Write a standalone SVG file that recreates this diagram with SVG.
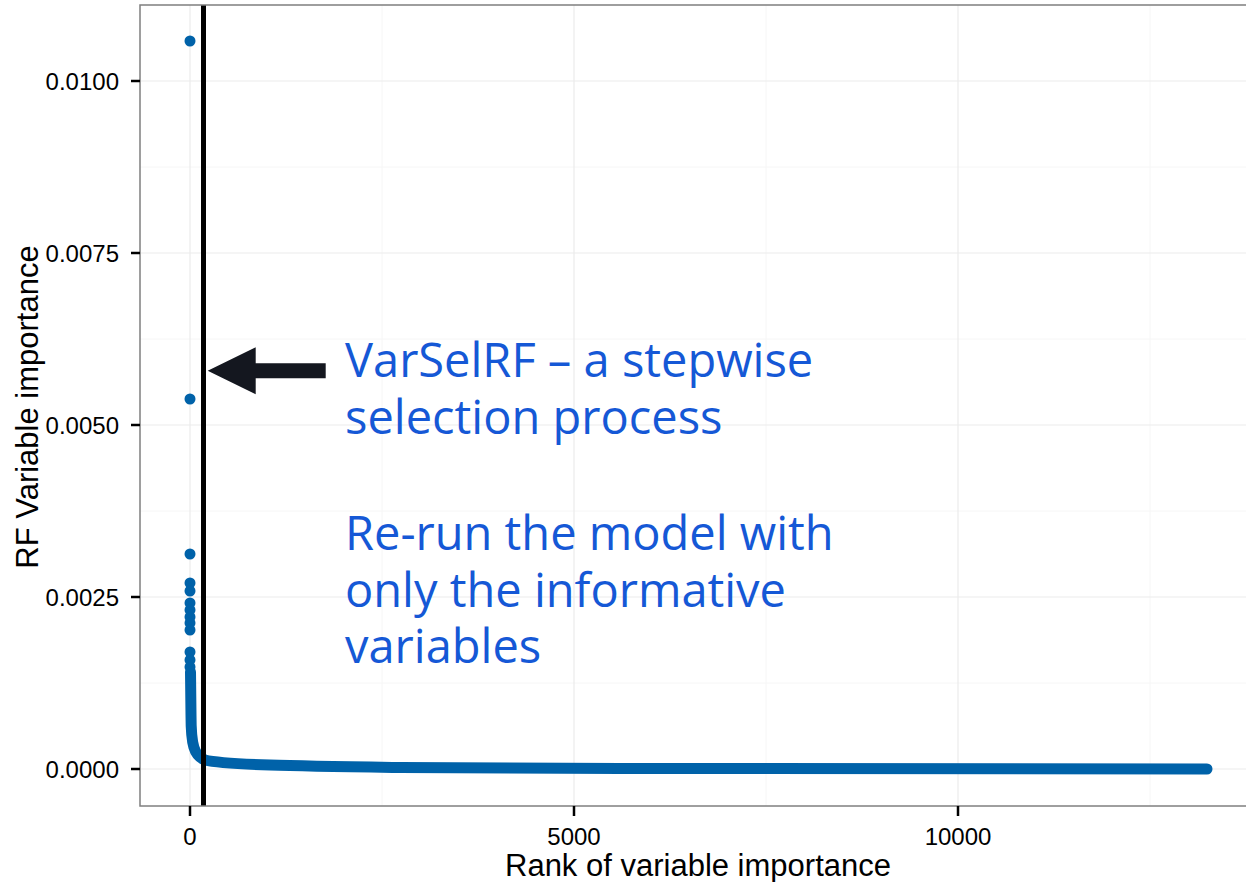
<svg xmlns="http://www.w3.org/2000/svg" width="1246" height="882" viewBox="0 0 1246 882">
  <style>
    .grid-major { stroke: #ebebeb; stroke-width: 1.2; }
    .grid-minor { stroke: #f6f6f6; stroke-width: 1; }
    .tick { stroke: #000; stroke-width: 2.5; }
    .ticklabel { font-family: "Liberation Sans", Arial, sans-serif; font-size: 24px; fill: #000; }
    .axistitle { font-family: "Liberation Sans", Arial, sans-serif; font-size: 31px; fill: #000; }
    .pt { fill: #0062a9; }
    .note { font-family: "Open Sans", "Noto Sans", sans-serif; font-size: 47px; fill: #1558d6; }
  </style>
  <rect width="1246" height="882" fill="#fff"/>

  <!-- panel grid -->
  <g id="grid">
    <line class="grid-minor" x1="140" x2="1246" y1="167" y2="167"/>
    <line class="grid-minor" x1="140" x2="1246" y1="339" y2="339"/>
    <line class="grid-minor" x1="140" x2="1246" y1="511" y2="511"/>
    <line class="grid-minor" x1="140" x2="1246" y1="683" y2="683"/>
    <line class="grid-minor" x1="382" x2="382" y1="5" y2="806"/>
    <line class="grid-minor" x1="766" x2="766" y1="5" y2="806"/>
    <line class="grid-minor" x1="1150" x2="1150" y1="5" y2="806"/>
    <line class="grid-major" x1="140" x2="1246" y1="81" y2="81"/>
    <line class="grid-major" x1="140" x2="1246" y1="253" y2="253"/>
    <line class="grid-major" x1="140" x2="1246" y1="425" y2="425"/>
    <line class="grid-major" x1="140" x2="1246" y1="597" y2="597"/>
    <line class="grid-major" x1="140" x2="1246" y1="769" y2="769"/>
    <line class="grid-major" x1="190" x2="190" y1="5" y2="806"/>
    <line class="grid-major" x1="574" x2="574" y1="5" y2="806"/>
    <line class="grid-major" x1="958" x2="958" y1="5" y2="806"/>
  </g>

  <!-- data: importance by rank -->
  <g id="points">
    <circle class="pt" cx="190" cy="41" r="5.5"/>
    <circle class="pt" cx="190" cy="399" r="5.5"/>
    <circle class="pt" cx="190" cy="554" r="5.5"/>
    <circle class="pt" cx="190" cy="583" r="5.5"/>
    <circle class="pt" cx="190" cy="591" r="5.5"/>
    <circle class="pt" cx="190" cy="603" r="5.5"/>
    <circle class="pt" cx="190" cy="610" r="5.5"/>
    <circle class="pt" cx="190" cy="617" r="5.5"/>
    <circle class="pt" cx="190" cy="623" r="5.5"/>
    <circle class="pt" cx="190" cy="630" r="5.5"/>
    <circle class="pt" cx="190" cy="652" r="5.5"/>
    <circle class="pt" cx="190" cy="660" r="5.5"/>
    <circle class="pt" cx="190" cy="667" r="5.5"/>
    <path d="M190.5,672 L191,715 C191,745 194,756 205,760 C225,765 300,766 400,767.5 L620,768.5 L1207,769"
          fill="none" stroke="#0062a9" stroke-width="11" stroke-linecap="round" stroke-linejoin="round"/>
  </g>

  <!-- cut-off marker -->
  <line id="cutoff" x1="203.5" y1="5" x2="203.5" y2="806" stroke="#000" stroke-width="5"/>

  <!-- panel border -->
  <rect id="panel" x="140" y="5" width="1110" height="801" fill="none" stroke="#7f7f7f" stroke-width="1.5"/>

  <!-- axes -->
  <g id="y-axis">
    <line class="tick" x1="131" x2="140" y1="81" y2="81"/>
    <line class="tick" x1="131" x2="140" y1="253" y2="253"/>
    <line class="tick" x1="131" x2="140" y1="425" y2="425"/>
    <line class="tick" x1="131" x2="140" y1="597" y2="597"/>
    <line class="tick" x1="131" x2="140" y1="769" y2="769"/>
    <text class="ticklabel" x="119" y="90" text-anchor="end">0.0100</text>
    <text class="ticklabel" x="119" y="262" text-anchor="end">0.0075</text>
    <text class="ticklabel" x="119" y="434" text-anchor="end">0.0050</text>
    <text class="ticklabel" x="119" y="606" text-anchor="end">0.0025</text>
    <text class="ticklabel" x="119" y="778" text-anchor="end">0.0000</text>
    <text class="axistitle" transform="translate(38,407) rotate(-90)" text-anchor="middle">RF Variable importance</text>
  </g>
  <g id="x-axis">
    <line class="tick" x1="190" x2="190" y1="806" y2="816"/>
    <line class="tick" x1="574" x2="574" y1="806" y2="816"/>
    <line class="tick" x1="958" x2="958" y1="806" y2="816"/>
    <text class="ticklabel" x="190" y="845" text-anchor="middle">0</text>
    <text class="ticklabel" x="574" y="845" text-anchor="middle">5000</text>
    <text class="ticklabel" x="958" y="845" text-anchor="middle">10000</text>
    <text class="axistitle" x="698" y="876" text-anchor="middle">Rank of variable importance</text>
  </g>

  <!-- annotation -->
  <g id="annotation">
    <polygon points="207.7,370.7 255.7,347.3 255.7,363.3 325.7,363.3 325.7,378.3 255.7,378.3 255.7,394.3" fill="#14171f"/>
    <text class="note" x="345" y="377">VarSelRF – a stepwise</text>
    <text class="note" x="345" y="434">selection process</text>
    <text class="note" x="345" y="550">Re-run the model with</text>
    <text class="note" x="345" y="607">only the informative</text>
    <text class="note" x="345" y="663">variables</text>
  </g>
</svg>
